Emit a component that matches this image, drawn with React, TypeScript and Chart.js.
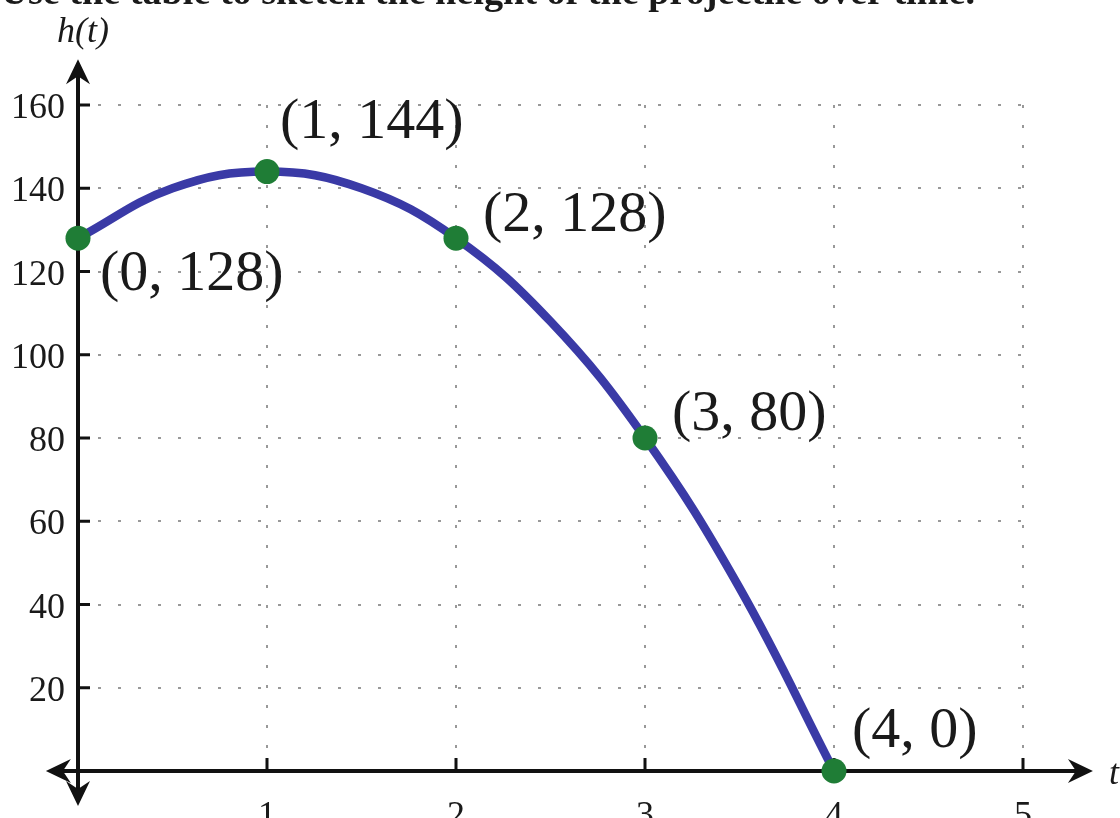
import React, { useEffect, useRef } from "react";
import { Chart, registerables } from "chart.js";

Chart.register(...registerables);

// Labelled points of h(t)
const pointT = [0, 1, 2, 3, 4];
const pointH = [128, 144, 128, 80, 0];
const pointLabels = ["(0, 128)", "(1, 144)", "(2, 128)", "(3, 80)", "(4, 0)"];

// Curve readings from the picture (half-second steps)
const curveT = [0, 0.5, 1, 1.5, 2, 2.5, 3, 3.5, 4];
const curveH = [128, 140, 144, 140, 128, 108, 80, 44, 0];

// Tick labels
const xTicks = [1, 2, 3, 4, 5];
const yTicks = [20, 40, 60, 80, 100, 120, 140, 160];

const titleText = "Use the table to sketch the height of the projectile over time.";
const yAxisTitle = "h(t)";
const xAxisTitle = "t";

// label offsets in pixels from the point (dx, dy to baseline-left)
const labelOffsets = [
  [22, 52],
  [13, -34],
  [27, -7],
  [27, -8],
  [18, -24],
];

const SERIF = '"Liberation Serif", "Times New Roman", serif';

const overlayPlugin = {
  id: "overlay",
  beforeDatasetsDraw(chart: any) {
    const ctx = chart.ctx;
    const xs = chart.scales.x;
    const ys = chart.scales.y;
    const x0 = xs.getPixelForValue(0);
    const y0 = ys.getPixelForValue(0);
    ctx.save();
    // title (cut at top)
    ctx.fillStyle = "#1a1a1a";
    ctx.font = `bold 100px ${SERIF}`;
    const w100 = ctx.measureText(titleText).width;
    const fs = (100 * 975) / w100;
    ctx.font = `bold ${fs}px ${SERIF}`;
    ctx.textAlign = "right";
    ctx.textBaseline = "alphabetic";
    ctx.fillText(titleText, 975, 4);

    // axes
    ctx.strokeStyle = "#111";
    ctx.fillStyle = "#111";
    ctx.lineWidth = 4;
    const xLeft = xs.getPixelForValue(-0.17);
    const xRight = xs.getPixelForValue(5.37);
    const yTop = ys.getPixelForValue(171);
    const yBottom = ys.getPixelForValue(-8.4);
    ctx.beginPath();
    ctx.moveTo(xLeft + 10, y0);
    ctx.lineTo(xRight - 10, y0);
    ctx.moveTo(x0, yTop + 10);
    ctx.lineTo(x0, yBottom - 10);
    ctx.stroke();

    const arrow = (tx: number, ty: number, dx: number, dy: number) => {
      const L = 25, W = 12, N = 17;
      const px = -dy, py = dx;
      ctx.beginPath();
      ctx.moveTo(tx, ty);
      ctx.lineTo(tx - dx * L + px * W, ty - dy * L + py * W);
      ctx.lineTo(tx - dx * N, ty - dy * N);
      ctx.lineTo(tx - dx * L - px * W, ty - dy * L - py * W);
      ctx.closePath();
      ctx.fill();
    };
    arrow(xRight, y0, 1, 0);
    arrow(xLeft, y0, -1, 0);
    arrow(x0, yTop, 0, -1);
    arrow(x0, yBottom, 0, 1);

    // tick marks
    ctx.lineWidth = 3;
    ctx.beginPath();
    for (const v of yTicks) {
      const py = ys.getPixelForValue(v);
      ctx.moveTo(x0, py);
      ctx.lineTo(x0 + 12, py);
    }
    for (const v of xTicks) {
      const px = xs.getPixelForValue(v);
      ctx.moveTo(px, y0);
      ctx.lineTo(px, y0 - 13);
    }
    ctx.stroke();

    // tick labels
    ctx.fillStyle = "#1a1a1a";
    ctx.font = `36px ${SERIF}`;
    ctx.textAlign = "right";
    for (const v of yTicks) {
      ctx.fillText(String(v), x0 - 13, ys.getPixelForValue(v) + 13);
    }
    ctx.textAlign = "center";
    for (const v of xTicks) {
      ctx.fillText(String(v), xs.getPixelForValue(v), y0 + 55);
    }

    // axis titles
    ctx.font = `italic 36px ${SERIF}`;
    ctx.textAlign = "left";
    ctx.fillText(yAxisTitle, 57, 42);
    ctx.fillText(xAxisTitle, 1109, 784);
    ctx.restore();
  },
  afterDatasetsDraw(chart: any) {
    const ctx = chart.ctx;
    const xs = chart.scales.x;
    const ys = chart.scales.y;
    ctx.save();
    ctx.fillStyle = "#1a1a1a";
    ctx.font = `58px ${SERIF}`;
    ctx.textAlign = "left";
    ctx.textBaseline = "alphabetic";
    pointLabels.forEach((lab, i) => {
      const px = xs.getPixelForValue(pointT[i]);
      const py = ys.getPixelForValue(pointH[i]);
      ctx.fillText(lab, px + labelOffsets[i][0], py + labelOffsets[i][1]);
    });
    ctx.restore();
  },
};

export default function App() {
  const ref = useRef<HTMLCanvasElement | null>(null);
  useEffect(() => {
    if (!ref.current) return;
    const chart = new Chart(ref.current, {
      type: "scatter",
      data: {
        datasets: [
          {
            type: "line",
            data: curveT.map((t, i) => ({ x: t, y: curveH[i] })),
            borderColor: "#3a3aa6",
            borderWidth: 8.5,
            pointRadius: 0,
            tension: 0.4,
            cubicInterpolationMode: "default",
            fill: false,
            clip: false,
            order: 2,
          } as any,
          {
            type: "scatter",
            data: pointT.map((t, i) => ({ x: t, y: pointH[i] })),
            backgroundColor: "#1f7d36",
            borderColor: "#1f7d36",
            borderWidth: 0,
            pointRadius: 12.5,
            clip: false,
            order: 1,
          } as any,
        ],
      },
      options: {
        responsive: false,
        animation: false,
        events: [],
        layout: { padding: { left: 78, right: 97, top: 105, bottom: 47 } },
        plugins: { legend: { display: false }, tooltip: { enabled: false }, title: { display: false } },
        scales: {
          x: {
            type: "linear",
            min: 0,
            max: 5,
            ticks: { display: false, stepSize: 1 },
            grid: {
              drawTicks: false,
              color: (c: any) => (c.tick && c.tick.value === 0 ? "rgba(0,0,0,0)" : "#999999"),
              lineWidth: 2,
            },
            border: { display: false, dash: [3, 17] },
          },
          y: {
            type: "linear",
            min: 0,
            max: 160,
            ticks: { display: false, stepSize: 20 },
            grid: {
              drawTicks: false,
              color: (c: any) => (c.tick && c.tick.value === 0 ? "rgba(0,0,0,0)" : "#999999"),
              lineWidth: 2,
            },
            border: { display: false, dash: [3, 17] },
          },
        },
      } as any,
      plugins: [overlayPlugin],
    });
    return () => chart.destroy();
  }, []);
  return (
    <div style={{ position: "absolute", left: 0, top: 0, width: 1120, height: 818, background: "#fff", overflow: "hidden" }}>
      <canvas ref={ref} width={1120} height={818} style={{ display: "block" }} />
    </div>
  );
}
